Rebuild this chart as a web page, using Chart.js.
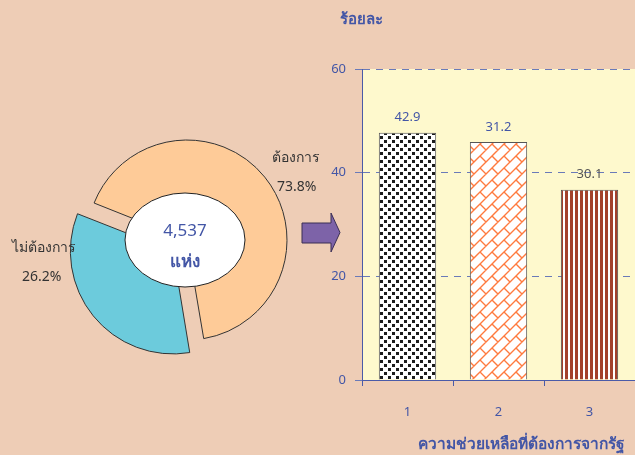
<!DOCTYPE html>
<html>
<head>
<meta charset="utf-8">
<script src="https://cdn.jsdelivr.net/npm/chart.js@4.4.0/dist/chart.umd.min.js"></script>
<style>
  body { margin: 0; background: #EECDB6; width: 635px; height: 455px; overflow: hidden; position: relative;
         font-family: Tahoma, "Noto Sans", "DejaVu Sans", sans-serif; }
  canvas { position: absolute; top: 0; }
  #pie { left: 0; }
  #bar { left: 300px; }
  .t { position: absolute; color: #4356A6; font-weight: bold; white-space: nowrap; }
</style>
</head>
<body>
<canvas id="pie" width="374" height="455"></canvas>
<canvas id="bar" width="335" height="455"></canvas>
<div class="t" style="left:340px; top:7px; font-size:15px;">ร้อยละ</div>
<div class="t" style="left:418px; top:431px; font-size:15.5px;">ความช่วยเหลือที่ต้องการจากรัฐ</div>
<script>
const FONT = 'Tahoma, "Noto Sans", "DejaVu Sans", sans-serif';
const BLUE = '#4356A6';

// doughnut: slice sizes as drawn, printed percentages as labelled
const pieLabels = ["ต้องการ", "ไม่ต้องการ"];
const pieShares = [66.3, 33.7];
const piePercentLabels = ["73.8%", "26.2%"];
const totalCount = "4,537";
const totalUnit = "แห่ง";

// bars: heights as drawn, printed values as labelled
const barCategories = ["1", "2", "3"];
const barValues = [47.7, 45.9, 36.7];
const barValueLabels = ["42.9", "31.2", "30.1"];
const yTicks = [0, 20, 40, 60];

function makePattern(w, h, draw) {
  const c = document.createElement('canvas');
  c.width = w; c.height = h;
  const g = c.getContext('2d');
  draw(g, w, h);
  return g.createPattern(c, 'repeat');
}

const dots = makePattern(8, 8, g => {
  g.fillStyle = '#fff'; g.fillRect(0, 0, 8, 8);
  g.fillStyle = '#1c1c1c';
  g.fillRect(0, 0, 3, 3);
  g.fillRect(4, 4, 3, 3);
});

const bricks = makePattern(24, 24, g => {
  g.fillStyle = '#fff'; g.fillRect(0, 0, 24, 24);
  g.strokeStyle = '#FF7A3E'; g.lineWidth = 1.4;
  g.beginPath();
  for (let s = -24; s <= 72; s += 12) { g.moveTo(s + 48, -48); g.lineTo(s - 48, 48); }
  for (let j = -4; j <= 8; j++) {
    for (let m = -3; m <= 3; m++) {
      const c = (Math.abs(j) % 2 === 0 ? 0 : 12) + 24 * m;
      const a = 12 * j, b = 12 * j + 12;
      g.moveTo((a - c) / 2, (a + c) / 2);
      g.lineTo((b - c) / 2, (b + c) / 2);
    }
  }
  g.stroke();
});

const stripes = makePattern(5, 5, g => {
  g.fillStyle = '#fff'; g.fillRect(0, 0, 5, 5);
  g.fillStyle = '#A3412A'; g.fillRect(0, 0, 3, 5);
});

const pieExtras = {
  id: 'pieExtras',
  afterDraw(chart) {
    const ctx = chart.ctx;
    ctx.save();
    // centre ellipse
    ctx.beginPath();
    ctx.ellipse(185, 240, 60, 47, 0, 0, Math.PI * 2);
    ctx.fillStyle = '#fff'; ctx.fill();
    ctx.strokeStyle = '#222'; ctx.lineWidth = 1; ctx.stroke();
    ctx.fillStyle = BLUE;
    ctx.textAlign = 'center'; ctx.textBaseline = 'middle';
    ctx.font = '17px ' + FONT;
    ctx.fillText(totalCount, 185, 231);
    ctx.font = 'bold 17px ' + FONT;
    ctx.fillText(totalUnit, 185, 262);
    // slice labels
    ctx.fillStyle = '#333';
    ctx.textAlign = 'left';
    ctx.font = '14px ' + FONT;
    ctx.fillText(pieLabels[0], 272, 158);
    ctx.fillText(piePercentLabels[0], 277, 187);
    ctx.fillText(pieLabels[1], 12, 248);
    ctx.fillText(piePercentLabels[1], 22, 277);
    // arrow
    ctx.beginPath();
    ctx.moveTo(302, 223); ctx.lineTo(331, 223); ctx.lineTo(331, 213);
    ctx.lineTo(340, 232.5); ctx.lineTo(331, 252); ctx.lineTo(331, 243);
    ctx.lineTo(302, 243); ctx.closePath();
    ctx.fillStyle = '#7D63A8'; ctx.fill();
    ctx.strokeStyle = '#3a2f55'; ctx.stroke();
    ctx.restore();
  }
};

new Chart(document.getElementById('pie'), {
  type: 'doughnut',
  data: {
    labels: pieLabels,
    datasets: [{
      data: pieShares,
      backgroundColor: ['#FECB98', '#6CCBDC'],
      borderColor: '#333',
      borderWidth: 1,
      offset: [0, 72]
    }]
  },
  options: {
    responsive: false,
    animation: false,
    rotation: 291.7,
    radius: 100,
    cutout: '30%',
    layout: { padding: { top: 25 } },
    plugins: { legend: { display: false }, tooltip: { enabled: false } }
  },
  plugins: [pieExtras]
});

const barExtras = {
  id: 'barExtras',
  beforeDraw(chart) {
    const a = chart.chartArea, ctx = chart.ctx;
    ctx.save();
    ctx.fillStyle = '#FEF9CD';
    ctx.fillRect(a.left, a.top, a.right - a.left, a.bottom - a.top);
    ctx.restore();
  },
  afterDatasetsDraw(chart) {
    const ctx = chart.ctx;
    ctx.save();
    ctx.font = '13px ' + FONT;
    ctx.textAlign = 'center'; ctx.textBaseline = 'middle';
    chart.getDatasetMeta(0).data.forEach((bar, i) => {
      ctx.fillStyle = i < 2 ? BLUE : '#555';
      ctx.fillText(barValueLabels[i], bar.x, bar.y - 15);
    });
    ctx.restore();
  }
};

new Chart(document.getElementById('bar'), {
  type: 'bar',
  data: {
    labels: barCategories,
    datasets: [{
      data: barValues,
      backgroundColor: [dots, bricks, stripes],
      borderColor: '#555',
      borderWidth: 1,
      barPercentage: 0.63,
      categoryPercentage: 1
    }]
  },
  options: {
    responsive: false,
    animation: false,
    layout: { padding: { top: 69, left: 0, right: 0, bottom: 0 } },
    plugins: { legend: { display: false }, tooltip: { enabled: false } },
    scales: {
      x: {
        grid: { drawOnChartArea: false, tickLength: 6, color: '#4a5ba8' },
        border: { color: '#4a5ba8' },
        ticks: { color: BLUE, font: { size: 13, family: FONT }, padding: 18 },
        afterFit(s) { s.height = 75; }
      },
      y: {
        min: 0, max: 60,
        afterBuildTicks(s) { s.ticks = yTicks.map(v => ({ value: v })); },
        grid: { color: '#6a7ab8', tickLength: 7 },
        border: { color: '#4a5ba8', dash: [7, 6] },
        ticks: { color: BLUE, font: { size: 13, family: FONT }, padding: 9 },
        afterFit(s) { s.width = 62; }
      }
    }
  },
  plugins: [barExtras]
});
</script>
</body>
</html>
